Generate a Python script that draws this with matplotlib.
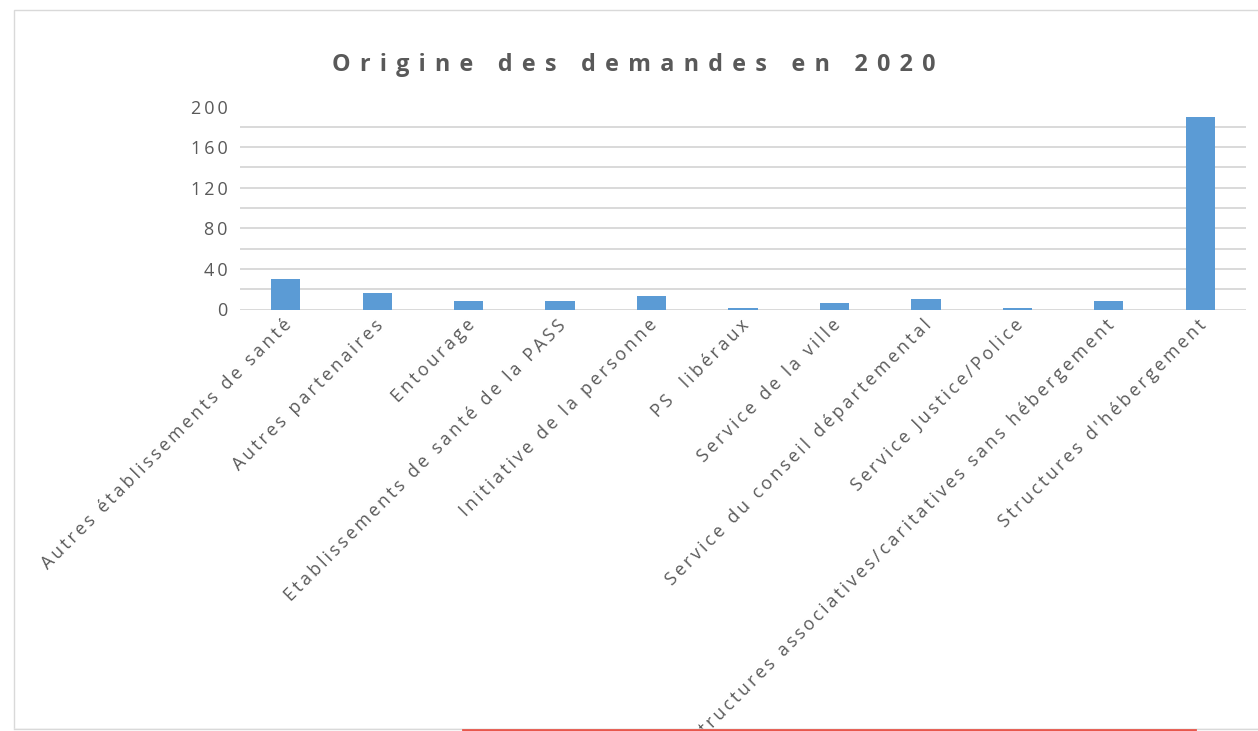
import matplotlib
matplotlib.use('Agg')
import matplotlib.pyplot as plt
import matplotlib.transforms as mtransforms
from matplotlib.patches import Rectangle
from matplotlib.lines import Line2D

# données
categories = [
    "Autres établissements de santé",
    "Autres partenaires",
    "Entourage",
    "Etablissements de santé de la PASS",
    "Initiative de la personne",
    "PS  libéraux",
    "Service de la ville",
    "Service du conseil départemental",
    "Service Justice/Police",
    "Structures associatives/caritatives sans hébergement",
    "Structures d'hébergement",
]
values = [30, 16, 8, 8, 13, 1, 6, 10, 1, 8, 190]
y_ticks = [0, 40, 80, 120, 160, 200]
title = "Origine des demandes en 2020"

W, H = 1258, 731
grey_txt = '#595959'
grid_col = '#d9d9d9'
bar_col = '#5b9bd5'

plt.rcParams['font.family'] = ['Open Sans', 'DejaVu Sans']


def spaced(s, sep='\u2009', word_sep=None):
    # espacement des lettres façon Excel
    if word_sep is None:
        return sep.join(s)
    return word_sep.join(sep.join(w) for w in s.split(' '))


fig = plt.figure(figsize=(W / 100, H / 100), dpi=100)

# cadre du graphique
fig.patches.append(Rectangle((13.5 / W, 2.5 / H), 1.2, (726 - 9.5 + 2) / H,
                             transform=fig.transFigure, fill=False,
                             edgecolor=grid_col, lw=1, zorder=0))

ax = fig.add_axes([240 / W, 1 - 309.5 / H, (1246 - 240) / W, (309.5 - 106.5) / H])
x = list(range(len(categories)))
ax.bar(x, values, width=0.32, color=bar_col, zorder=3)
ax.set_xlim(-0.5, len(categories) - 0.5)
ax.set_ylim(0, 200)

ax.set_yticks(y_ticks)
ax.set_yticks(range(0, 201, 20), minor=True)
ax.set_yticklabels([spaced(str(v)) for v in y_ticks], fontsize=13, color=grey_txt)
ax.grid(axis='y', which='both', color=grid_col, lw=1.4)
ax.set_axisbelow(True)
for s in ax.spines.values():
    s.set_visible(False)
ax.tick_params(axis='both', which='both', length=0)
ax.tick_params(axis='y', pad=9)

ax.set_xticks(x)
ax.set_xticklabels([spaced(c) for c in categories], rotation=45, ha='right',
                   va='center', rotation_mode='anchor', fontsize=12.8, color=grey_txt)
ax.tick_params(axis='x', pad=10)
offset = mtransforms.ScaledTranslation(3 / 100, 1 / 100, fig.dpi_scale_trans)
for lbl in ax.get_xticklabels():
    lbl.set_transform(lbl.get_transform() + offset)

fig.text(634 / W, 1 - 71 / H, spaced(title, '\u2009\u2009', '\u2009\u2009 \u2009\u2009'),
         ha='center', va='baseline', fontsize=16.8, fontweight='bold', color=grey_txt)

# masque sous le cadre + trait rouge
fig.patches.append(Rectangle((0, 0), 1, 2.5 / H, transform=fig.transFigure,
                             color='white', zorder=10))
fig.lines.append(Line2D([13.5 / W, 1], [2.5 / H, 2.5 / H], transform=fig.transFigure,
                        color=grid_col, lw=1, zorder=11))
fig.lines.append(Line2D([463 / W, 1195 / W], [1 / H, 1 / H], transform=fig.transFigure,
                        color='#e8574c', lw=2, zorder=12))

fig.savefig('out.png', dpi=100)
